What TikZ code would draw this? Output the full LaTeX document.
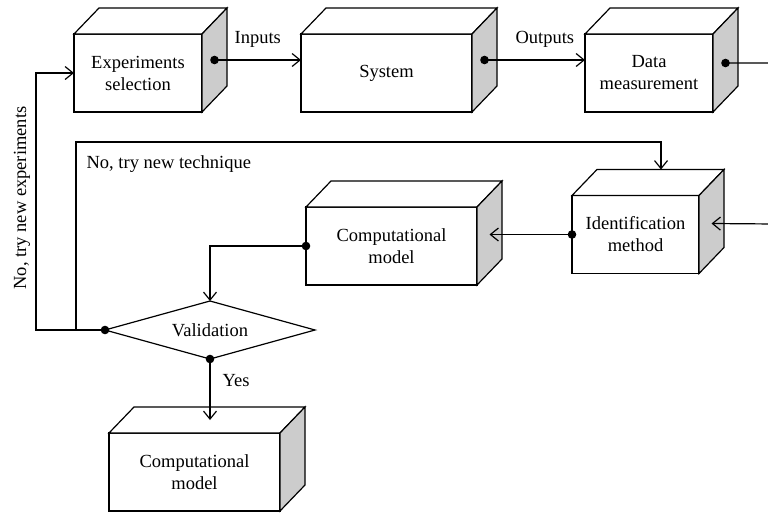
\documentclass[tikz,border=0pt]{standalone}
\usepackage{fontspec}
\setmainfont{Liberation Serif}
\usetikzlibrary{arrows.meta, positioning, shapes.geometric, calc}
\definecolor{cside}{HTML}{CCCCCC}
\tikzset{
  every picture/.style={line width=1.2pt},
  cube/.style={draw, fill=white, outer sep=0pt, align=center, minimum height=78pt, minimum width=#1, inner sep=2pt},
  cube/.default=128pt,
  arrow/.style={-{Straight Barb[length=8pt, width=13pt]}},
  decision/.style={draw, fill=white, diamond, aspect=3.6, minimum width=210pt, minimum height=58pt, inner sep=0pt, outer sep=0pt},
  lbl/.style={inner sep=2pt},
}
\begin{document}
\begin{tikzpicture}[x=1pt, y=-1pt]
  \fontsize{18.5}{22}\selectfont
  \useasboundingbox (0,0) rectangle (768,512);
  % boxes (front faces)
  \node[cube] (exp) at (138,73) {Experiments\\selection};
  \node[cube=171pt] (sys) at (386.5,73) {System};
  \node[cube] (dat) at (649,73) {Data\\measurement};
  \node[cube=127pt] (idn) at (635.5,234.5) {Identification\\method};
  \node[cube=171pt] (cm1) at (391.5,246) {Computational\\model};
  \node[cube=171pt] (cm2) at (194.5,472) {Computational\\model};
  \node[decision] (val) at (210,330) {Validation};
  % top and side faces
  \foreach \n in {exp,sys,dat,idn,cm1,cm2} {
    \draw[fill=white] (\n.north west) -- ($(\n.north west)+(25,-26)$) -- ($(\n.north east)+(25,-26)$) -- (\n.north east) -- cycle;
    \draw[fill=cside] (\n.north east) -- ($(\n.north east)+(25,-26)$) -- ($(\n.south east)+(25,-26)$) -- (\n.south east) -- cycle;
    \coordinate (\n s) at ($(\n.east)+(12.5,-13)$);
    \coordinate (\n t) at ($(\n.north)+(12.5,-13)$);
  }
  \coordinate (idtop) at ($(idn.north)+(25.5,-26)$);
  \coordinate (lp1) at (76,142);
  \coordinate (lp2) at (36,73);
  \coordinate (rim) at (775,224);
  % connectors
  \draw[arrow] (exps) -- node[lbl, above=10pt] {Inputs} (exps -| sys.west);
  \draw[arrow] (syss) -- node[lbl, above=10pt, pos=0.6] {Outputs} (syss -| dat.west);
  \draw[arrow] ($(dats)+(0,3)$) -| (rim) -- ($(idns)+(0,2)$);
  \draw[arrow] (idn.west) -- (idn.west -| cm1s);
  \draw[arrow] (cm1.west) -| (val.north);
  \draw[arrow] (val.west) -| (lp1) -| (idtop);
  \draw[arrow] (val.west) -| (lp2) -- (exp.west);
  \draw[arrow] (val.south) -- node[lbl, right=10pt, pos=0.35] {Yes} (val.south |- cm2t);
  % dots
  \foreach \p in {exps, syss, idn.west, cm1.west, val.west, val.south} {
    \fill (\p) circle (4.3pt);
  }
  \fill ($(dats)+(0,3)$) circle (4.3pt);
  % loop labels
  \node[lbl, anchor=west] (tech) at (84,164) {No, try new technique};
  \node[lbl, rotate=90] (expt) at (22,198) {No, try new experiments};
\end{tikzpicture}
\end{document}
